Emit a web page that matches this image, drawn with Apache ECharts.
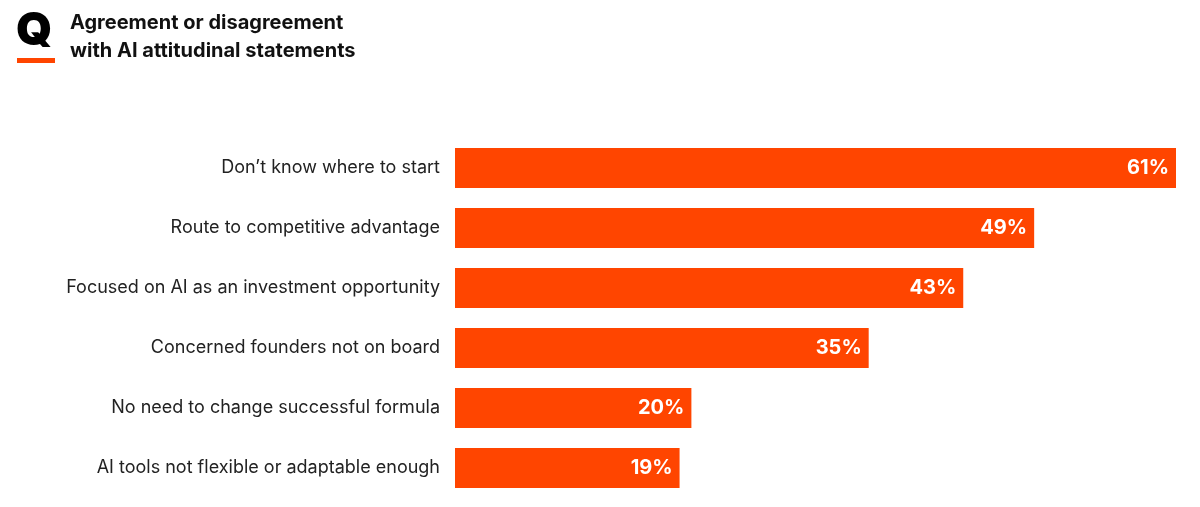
<!DOCTYPE html>
<html>
<head>
<meta charset="utf-8">
<script src="https://cdn.jsdelivr.net/npm/echarts@6/dist/echarts.min.js"></script>
<style>html,body{margin:0;padding:0;background:#fff}#chart{width:1200px;height:507px}</style>
</head>
<body>
<div id="chart"></div>
<script>
var categories = ['Don\u2019t know where to start', 'Route to competitive advantage', 'Focused on AI as an investment opportunity', 'Concerned founders not on board', 'No need to change successful formula', 'AI tools not flexible or adaptable enough'];
var values = [61, 49, 43, 35, 20, 19];

var myChart = echarts.init(document.getElementById('chart'));
var option = {
    animation: false,
    textStyle: { fontFamily: 'Inter' },
    graphic: [
        { type: 'text', left: 16, top: 8, style: { text: 'Q', font: '900 46px Inter', fill: '#000' } },
        { type: 'rect', shape: { x: 17, y: 58, width: 38, height: 5 }, style: { fill: '#ff4500' } },
        { type: 'text', left: 70, top: 9, style: { text: 'Agreement or disagreement\nwith AI attitudinal statements', font: 'bold 20px Inter', lineHeight: 28, fill: '#111' } }
    ],
    grid: { left: 455, right: 24, top: 138, bottom: 9 },
    xAxis: { type: 'value', min: 0, max: 61, show: false },
    yAxis: {
        type: 'category', data: categories, inverse: true,
        axisLine: { show: false }, axisTick: { show: false },
        axisLabel: { color: '#222', fontSize: 18, margin: 15 }
    },
    series: [{
        type: 'bar', data: values, barWidth: 40,
        itemStyle: { color: '#ff4500' },
        label: { show: true, position: 'insideRight', formatter: '{c}%', color: '#fff', fontWeight: 'bold', fontSize: 20, offset: [-2, 0] }
    }]
};
myChart.setOption(option);
</script>
</body>
</html>
